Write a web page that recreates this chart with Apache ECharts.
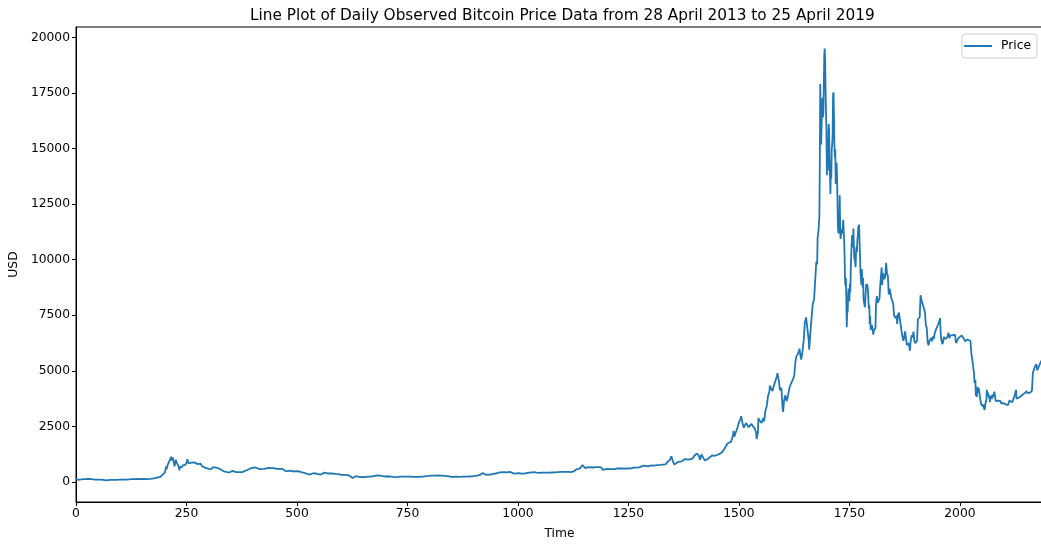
<!DOCTYPE html>
<html>
<head>
<meta charset="utf-8">
<script src="https://cdn.jsdelivr.net/npm/echarts@6/dist/echarts.min.js"></script>
<style>
  html, body { margin: 0; padding: 0; background: #fff; }
  #chart { width: 1041px; height: 545px; }
</style>
</head>
<body>
<div id="chart"></div>
<script>
// Daily closing price in USD, as [day index since 28 April 2013, price].
const price2013 = [
  [0,134],[2,139],[5,98],[7,116],[12,111],[17,123],[22,122],[27,133],[30,129],[36,122],
  [42,108],[48,103],[54,108],[58,104],[62,95],[66,77],[68,68],[72,77],[78,90],[86,95],
  [92,95],[98,105],[105,102],[112,108],[120,118],[126,130],[133,127],[140,135],[147,125],
  [153,135],[156,132],[157,105],[160,122],[168,140],[176,160],[183,196],[187,203],[191,225],
  [194,295],[196,330],[198,355],[201,420],[203,490],[204,700],[205,570],[207,740],[209,840],
  [211,810],[213,1000],[215,1130],[216,1120],[217,960],[218,1040],[219,1100],[220,1151],
  [221,1045],[222,815],[223,705],[224,800],[225,910],[226,1000],[227,900],[229,900],
  [231,870],[232,700],[233,690],[234,522],[235,690],[236,620],[238,620],[240,660],
  [242,760],[244,730],[247,754]
];
const price2014 = [
  [248,771],[250,860],[252,1014],[253,935],[255,830],[258,850],[261,870],[264,820],
  [268,880],[272,820],[275,800],[279,830],[282,820],[285,710],[289,670],[292,640],
  [296,620],[300,590],[303,535],[306,580],[307,570],[310,670],[314,630],[320,630],
  [326,580],[330,500],[334,480],[338,480],[340,450],[343,450],[347,420],[348,365],
  [350,460],[354,500],[358,490],[362,440],[365,440],[370,440],[376,440],[380,450],
  [386,525],[392,580],[398,630],[401,670],[406,650],[410,590],[416,580],[420,600],
  [426,590],[430,640],[436,630],[442,620],[448,620],[454,590],[459,590],[462,585],
  [468,590],[473,500],[478,490],[484,510],[490,480],[495,475],[500,480],[505,470],
  [510,440],[514,400],[520,390],[524,360],[528,330],[532,350],[537,390],[542,380],
  [548,350],[553,325],[557,340],[562,420],[567,390],[572,380],[578,380],[582,380],
  [588,360],[594,350],[600,320],[606,320],[612,320]
];
const price2015 = [
  [613,315],[616,275],[620,270],[624,225],[626,178],[628,210],[633,260],[638,240],
  [643,220],[648,225],[654,220],[660,240],[666,235],[671,255],[675,275],[681,295],
  [688,280],[694,260],[700,245],[705,255],[712,240],[717,225],[722,220],[728,225],
  [735,238],[742,240],[750,237],[757,240],[763,230],[768,225],[775,230],[782,240],
  [788,245],[793,260],[798,270],[805,285],[812,280],[818,290],[824,285],[830,280],
  [837,265],[842,260],[848,230],[849,210],[854,230],[860,235],[867,230],[874,235],
  [880,240],[885,235],[890,245],[896,250],[903,270],[908,285],[914,315],[918,360],
  [920,400],[922,375],[926,330],[932,330],[938,325],[944,360],[948,375],[953,390],
  [958,430],[962,455],[968,440],[974,430]
];
const price2016 = [
  [978,434],[982,450],[986,430],[991,375],[996,385],[1003,390],[1008,375],[1014,380],
  [1020,400],[1026,420],[1032,430],[1037,437],[1042,420],[1048,410],[1054,415],
  [1060,415],[1066,418],[1072,420],[1078,425],[1084,430],[1090,440],[1096,450],
  [1102,450],[1108,455],[1114,455],[1120,440],[1126,470],[1129,530],[1133,575],
  [1138,590],[1143,670],[1146,760],[1149,690],[1152,620],[1155,650],[1159,670],
  [1163,680],[1170,650],[1176,665],[1182,670],[1188,655],[1192,545],[1196,580],
  [1202,590],[1208,575],[1214,575],[1220,575],[1225,610],[1232,605],[1238,610],
  [1244,600],[1250,605],[1256,610],[1262,640],[1268,640],[1274,655],[1280,700],
  [1285,735],[1290,710],[1296,705],[1302,740],[1308,735],[1315,760],[1322,770],
  [1328,780],[1334,790],[1338,890],[1342,965]
];
const price2017 = [
  [1344,998],[1347,1154],[1351,900],[1354,777],[1358,830],[1362,900],[1366,920],
  [1370,920],[1374,970],[1378,1030],[1382,1050],[1386,1000],[1390,1010],[1395,1050],
  [1399,1180],[1403,1190],[1405,1280],[1409,1190],[1412,1000],[1415,1240],[1419,1170],
  [1423,960],[1426,940],[1430,1040],[1434,1080],[1439,1190],[1444,1170],[1450,1210],
  [1455,1250],[1461,1320],[1465,1420],[1469,1550],[1474,1730],[1478,1720],[1482,1800],
  [1486,2050],[1488,2300],[1490,2050],[1492,2180],[1494,2290],[1497,2470],[1500,2690],
  [1503,2800],[1505,2960],[1508,2650],[1511,2440],[1513,2500],[1516,2650],[1519,2720],
  [1522,2460],[1524,2480],[1528,2610],[1532,2500],[1536,2400],[1539,2200],[1540,1930],
  [1543,2230],[1544,2870],[1547,2750],[1551,2650],[1555,2870],[1557,2720],[1560,3220],
  [1563,3420],[1566,3880],[1569,4070],[1570,4330],[1573,4190],[1576,4090],[1579,4330],
  [1583,4570],[1586,4770],[1587,4890],[1590,4580],[1593,4120],[1596,4230],[1599,3250],
  [1600,3150],[1602,3640],[1605,3900],[1608,3630],[1611,3880],[1614,4200],[1616,4340],
  [1619,4400],[1622,4600],[1625,4780],[1628,5430],[1630,5650],[1633,5750],[1636,5900],
  [1637,6000],[1639,5700],[1641,5500],[1644,5900],[1647,6470],[1649,7150],[1652,7400],
  [1655,7460],[1658,6350],[1659,5950],[1661,6550],[1664,7300],[1667,8000],[1670,8200],
  [1672,8250],[1675,9900],[1677,9800],[1678,10980],[1679,10960],[1680,11290],
  [1681,11660],[1682,11920],[1683,14290],[1684,17900],[1685,16570],[1686,15180],
  [1687,15170],[1688,16730],[1689,17280],[1690,16400],[1691,16570],[1692,17700],
  [1693,19140],[1694,19497],[1695,19000],[1696,17700],[1697,16600],[1698,15800],
  [1699,13800],[1700,14700],[1701,14000],[1702,14000],[1703,16100],[1704,15840],
  [1705,14600],[1706,14650],[1707,12950],[1708,14150]
];
const price2018 = [
  [1709,13657],[1710,14980],[1711,15200],[1712,15600],[1713,17430],[1714,17530],
  [1715,16480],[1716,15170],[1717,14600],[1718,14970],[1719,13400],[1720,13980],
  [1721,14360],[1722,13770],[1723,13820],[1724,11490],[1725,11190],[1726,11470],
  [1727,11170],[1728,12900],[1729,11600],[1730,10930],[1731,10870],[1732,11360],
  [1733,11260],[1734,11170],[1735,11440],[1736,11790],[1737,11300],[1738,10900],
  [1739,10200],[1740,9170],[1741,8830],[1742,9170],[1743,8280],[1744,6955],[1745,7750],
  [1746,7620],[1747,8270],[1748,8700],[1749,8620],[1750,8130],[1751,8930],[1752,8540],
  [1753,9490],[1754,10170],[1755,10230],[1756,11110],[1757,11120],[1758,10550],
  [1759,11400],[1760,10690],[1761,10010],[1762,10300],[1763,9830],[1764,9660],
  [1765,10370],[1766,10580],[1767,10330],[1768,10920],[1769,11030],[1770,11470],
  [1771,11500],[1772,11570],[1773,10760],[1774,10150],[1775,9400],[1776,9330],
  [1777,8870],[1778,9580],[1779,9210],[1780,8750],[1781,9170],[1782,8200],[1783,8260],
  [1784,8270],[1785,7860],[1786,8200],[1787,8590],[1788,8900],[1789,8720],[1790,8910],
  [1791,8790],[1792,8630],[1793,8130],[1794,7790],[1795,7950],[1796,7090],[1797,7460],
  [1798,6850],[1799,6810],[1801,7050],[1803,6780],[1804,6630],[1805,6780],[1807,6780],
  [1809,6940],[1810,7920],[1812,8360],[1814,8060],[1816,8160],[1818,8260],[1820,8940],
  [1822,8880],[1823,9650],[1824,8860],[1826,9390],[1828,9240],[1829,9120],[1831,9240],
  [1833,9860],[1835,9380],[1837,9270],[1839,8430],[1841,8690],[1843,8480],[1845,8250],
  [1847,8250],[1849,8040],[1851,7480],[1853,7560],[1855,7370],[1857,7490],[1858,7110],
  [1860,7530],[1862,7620],[1864,7690],[1866,7640],[1868,6780],[1870,6550],[1872,6350],
  [1874,6500],[1876,6770],[1878,6720],[1880,6150],[1883,6250],[1885,6160],[1887,5900],
  [1888,6220],[1889,6400],[1891,6600],[1893,6500],[1895,6760],[1897,6330],[1899,6240],
  [1901,6280],[1903,6360],[1905,7320],[1907,7400],[1909,7410],[1911,8400],[1913,8190],
  [1915,8230],[1917,8190],[1919,7780],[1921,7620],[1923,7040],[1925,6930],[1927,6280],
  [1929,6150],[1931,6340],[1933,6270],[1935,6480],[1937,6330],[1939,6550],[1941,6440],
  [1943,6700],[1945,6700],[1947,6910],[1950,7050],[1953,7200],[1955,7370],[1957,6500],
  [1960,6200],[1962,6290],[1964,6520],[1966,6490],[1968,6430],[1970,6400],[1972,6530],
  [1974,6720],[1976,6470],[1978,6590],[1980,6620],[1983,6590],[1986,6590],[1989,6630],
  [1991,6250],[1994,6270],[1997,6480],[2000,6480],[2004,6590],[2008,6480],[2012,6330],
  [2014,6360],[2017,6410],[2020,6380],[2024,6340],[2026,5740],[2027,5650],[2029,5600],
  [2031,5620],[2032,4870],[2033,4450],[2035,4600],[2036,3880],[2037,4010],[2038,3820],
  [2039,3860],[2040,4280],[2041,4270],[2042,4020],[2043,4210],[2044,4140],[2045,3840],
  [2046,3880],[2047,3630],[2048,3500],[2049,3420],[2050,3510],[2051,3510],[2052,3400],
  [2053,3490],[2054,3340],[2055,3290],[2056,3240],[2057,3250],[2058,3550],[2059,3590],
  [2060,3700],[2061,4140],[2062,3890],[2063,4020],[2064,3980],[2065,4040],[2066,3770],
  [2067,3860],[2068,3590],[2069,3880],[2070,3870],[2071,3940],[2072,3830],[2073,3740]
];
const price2019 = [
  [2074,3940],[2075,3840],[2076,3880],[2077,3950],[2078,4060],[2079,4030],[2080,4010],
  [2081,3630],[2082,3630],[2083,3550],[2084,3590],[2085,3550],[2086,3660],[2087,3680],
  [2088,3680],[2089,3650],[2090,3590],[2091,3590],[2092,3630],[2093,3540],[2094,3570],
  [2095,3570],[2096,3550],[2097,3530],[2098,3550],[2099,3580],[2100,3560],[2101,3480],
  [2102,3460],[2104,3490],[2105,3440],[2107,3530],[2109,3460],[2111,3400],[2112,3660],
  [2114,3630],[2116,3600],[2118,3580],[2120,3670],[2122,3620],[2124,3900],[2126,3950],
  [2127,4140],[2128,3750],[2130,3830],[2132,3800],[2133,3820],[2135,3810],[2137,3830],
  [2139,3860],[2141,3910],[2143,3930],[2145,3940],[2147,4000],[2149,3970],[2151,4090],
  [2153,3990],[2155,3990],[2157,4030],[2159,4020],[2161,4090],[2163,4110],[2164,4150],
  [2165,4880],[2166,4970],[2167,4900],[2168,5040],[2170,5200],[2172,5150],[2173,5300],
  [2175,5020],[2176,5070],[2178,5170],[2180,5260],[2182,5320],[2183,5400],[2185,5400],
  [2186,5500],[2187,5460],[2188,5210]
];

const xTicks = [0, 250, 500, 750, 1000, 1250, 1500, 1750, 2000];
const yTicks = [0, 2500, 5000, 7500, 10000, 12500, 15000, 17500, 20000];

const priceSeries = [].concat(price2013, price2014, price2015, price2016, price2017, price2018, price2019);

const FONT = '"DejaVu Sans", sans-serif';
const plain = v => String(Math.round(v));
const chart = echarts.init(document.getElementById('chart'), null, { renderer: 'canvas' });

chart.setOption({
  animation: false,
  backgroundColor: '#fff',
  title: {
    text: 'Line Plot of Daily Observed Bitcoin Price Data from 28 April 2013 to 25 April 2019',
    left: 245,
    top: 4,
    textStyle: { fontFamily: FONT, fontSize: 15.3, fontWeight: 'normal', color: '#000' }
  },
  legend: {
    right: 4,
    top: 34,
    padding: [6, 6, 6, 2],
    borderColor: '#ccc',
    borderWidth: 1,
    borderRadius: 3,
    itemWidth: 28,
    itemHeight: 2,
    icon: 'rect',
    textStyle: { fontFamily: FONT, fontSize: 12.3, color: '#000', padding: [0, 0, 0, 4] },
    data: ['Price']
  },
  grid: {
    left: 76,
    right: -2,
    top: 27,
    bottom: 43,
    outerBoundsMode: 'none',
    containLabel: false,
    show: true,
    borderColor: '#000',
    borderWidth: 1,
    backgroundColor: 'transparent'
  },
  xAxis: {
    type: 'value',
    min: 0,
    max: 2188,
    name: 'Time',
    nameLocation: 'middle',
    nameGap: 26,
    nameTextStyle: { fontFamily: FONT, fontSize: 12.3, color: '#000' },
    axisLine: { onZero: false, lineStyle: { color: '#000', width: 1 } },
    axisTick: { show: true, length: 4, lineStyle: { color: '#000' }, customValues: xTicks },
    axisLabel: { fontFamily: FONT, fontSize: 12.3, color: '#000', margin: 6, customValues: xTicks, formatter: plain },
    splitLine: { show: false }
  },
  yAxis: {
    type: 'value',
    min: -903,
    max: 20468,
    name: 'USD',
    nameLocation: 'middle',
    nameGap: 54,
    nameRotate: 90,
    nameTextStyle: { fontFamily: FONT, fontSize: 12.3, color: '#000' },
    axisLine: { show: true, onZero: false, lineStyle: { color: '#000', width: 1 } },
    axisTick: { show: true, length: 4, lineStyle: { color: '#000' }, customValues: yTicks },
    axisLabel: { fontFamily: FONT, fontSize: 12.3, color: '#000', margin: 6, customValues: yTicks, formatter: plain },
    splitLine: { show: false }
  },
  series: [{
    name: 'Price',
    type: 'line',
    data: priceSeries,
    showSymbol: false,
    symbol: 'none',
    clip: true,
    lineStyle: { color: '#1f77b4', width: 1.8 },
    itemStyle: { color: '#1f77b4' }
  }]
});
</script>
</body>
</html>
